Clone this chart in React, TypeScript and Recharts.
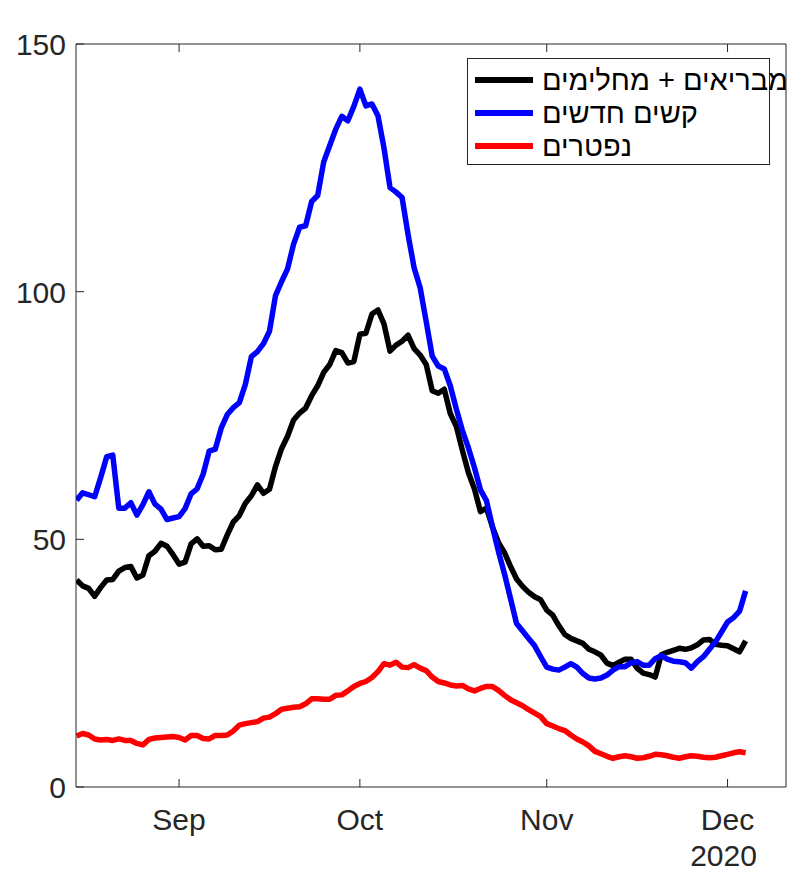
import React from 'react'
import { LineChart, Line, XAxis, YAxis, Legend } from 'recharts'

// day 0 = 15 Aug 2020, one point per day up to 4 Dec
const monthTicks = [17, 47, 78, 108]
const monthLabels = ['Sep', 'Oct', 'Nov', 'Dec']
const yearLabel = '2020'
const yTicks = [0, 50, 100, 150]

const seriesNames = ['מבריאים + מחלימים', 'קשים חדשים', 'נפטרים']
const seriesColors = ['#000000', '#0000ff', '#ff0000']

const recovered = [
  41.8, 40.6, 40.1, 38.5, 40.3, 41.8, 41.9, 43.6, 44.3, 44.5,
  42.2, 42.8, 46.7, 47.6, 49.2, 48.6, 46.9, 45.0, 45.4, 49.1,
  50.1, 48.6, 48.7, 47.9, 48.0, 50.9, 53.5, 54.8, 57.3, 58.8,
  61.0, 59.3, 60.1, 64.7, 68.3, 70.8, 74.1, 75.5, 76.5, 79.0,
  81.0, 83.7, 85.3, 88.1, 87.7, 85.6, 85.9, 91.4, 91.6, 95.5,
  96.3, 93.5, 88.0, 89.2, 90.0, 91.2, 88.5, 87.2, 85.3, 80.0,
  79.5, 80.3, 75.4, 72.8, 68.0, 63.5, 60.2, 55.6, 56.3, 52.5,
  49.3, 47.3, 44.5, 42.0, 40.5, 39.3, 38.4, 37.8, 35.7, 34.7,
  32.6, 30.8, 30.0, 29.5, 29.0, 27.8, 27.3, 26.6, 25.0, 24.5,
  25.2, 25.8, 25.8, 24.0, 23.0, 22.7, 22.2, 26.7, 27.2, 27.6,
  28.0, 27.8, 28.1, 28.7, 29.7, 29.8, 28.8, 28.6, 28.5, 27.9,
  27.3, 29.5,
]

const severe = [
  57.9, 59.4, 59.0, 58.6, 62.5, 66.7, 67.0, 56.3, 56.3, 57.4,
  54.9, 57.0, 59.6, 57.1, 56.1, 54.0, 54.3, 54.6, 56.2, 59.2,
  60.2, 63.2, 67.8, 68.2, 72.5, 75.2, 76.6, 77.6, 81.3, 86.9,
  87.9, 89.5, 92.0, 99.2, 102.0, 104.6, 109.6, 113.0, 113.3, 118.2,
  119.4, 126.2, 129.5, 132.8, 135.4, 134.5, 137.4, 140.9, 137.5, 137.9,
  135.5, 129.0, 121.0, 120.1, 119.0, 111.5, 104.8, 100.8, 94.0, 87.0,
  85.0, 84.4, 81.0, 76.3, 72.0, 68.5, 64.5, 60.0, 57.8, 52.5,
  47.5, 43.0, 38.0, 33.0, 31.5, 30.0, 28.5, 26.3, 24.2, 23.8,
  23.6, 24.2, 24.9, 24.2, 22.9, 22.0, 21.8, 22.0, 22.6, 23.6,
  24.3, 24.3, 25.1, 25.3, 24.6, 24.6, 25.9, 26.5, 25.8, 25.4,
  25.3, 25.1, 24.0, 25.3, 26.3, 27.8, 29.3, 31.3, 33.3, 34.2,
  35.5, 39.6,
]

const deaths = [
  10.3, 10.8, 10.5, 9.7, 9.5, 9.6, 9.4, 9.7, 9.4, 9.4,
  8.8, 8.5, 9.6, 9.9, 10.0, 10.1, 10.2, 10.0, 9.5, 10.4,
  10.4, 9.8, 9.7, 10.4, 10.4, 10.5, 11.3, 12.5, 12.8, 13.0,
  13.2, 13.9, 14.1, 14.8, 15.7, 15.9, 16.1, 16.2, 16.8, 17.8,
  17.8, 17.7, 17.7, 18.5, 18.6, 19.4, 20.3, 20.9, 21.3, 22.1,
  23.3, 24.9, 24.6, 25.2, 24.2, 24.1, 24.7, 24.0, 23.5, 22.2,
  21.3, 21.0, 20.6, 20.4, 20.5, 19.8, 19.4, 19.9, 20.3, 20.3,
  19.5, 18.5, 17.6, 17.0, 16.4, 15.6, 14.9, 14.2, 12.8, 12.3,
  11.8, 11.4, 10.5, 9.7, 9.1, 8.3, 7.2, 6.7, 6.2, 5.8,
  6.1, 6.3, 6.1, 5.8, 5.9, 6.2, 6.6, 6.5, 6.3, 6.0,
  5.8, 6.1, 6.3, 6.2, 6.0, 5.9, 6.0, 6.3, 6.6, 6.9,
  7.1, 6.9,
]

const data = recovered.map((v, i) => ({
  day: i,
  recovered: v,
  severe: severe[i],
  deaths: deaths[i],
}))

const font = '"Liberation Sans", Arial, Helvetica, sans-serif'
const ink = '#262626'

function MonthTick({ x, y, payload }: any) {
  const i = monthTicks.indexOf(payload.value)
  return (
    <g>
      <text x={x} y={y} dy={21} textAnchor='middle' fill={ink} fontSize={30} fontFamily={font}>
        {monthLabels[i]}
      </text>
      {i === monthTicks.length - 1 && (
        <text x={x - 4} y={y} dy={57} textAnchor='middle' fill={ink} fontSize={30} fontFamily={font}>
          {yearLabel}
        </text>
      )}
    </g>
  )
}

function ValueTick({ x, y, payload }: any) {
  return (
    <text x={x} y={y} dy={11} textAnchor='end' fill={ink} fontSize={30} fontFamily={font}>
      {payload.value}
    </text>
  )
}

function LegendBox() {
  return (
    <div style={{
      position: 'relative', width: 303, height: 107, boxSizing: 'border-box',
      border: '1px solid ' + ink, background: '#fff', fontFamily: font,
    }}>
      {seriesNames.map((name, i) => (
        <div key={name} style={{ position: 'absolute', left: 7, top: 21 + i * 33, height: 0 }}>
          <div style={{ position: 'absolute', left: 0, top: -3, width: 58, height: 6, background: seriesColors[i] }} />
          <span dir='rtl' style={{
            position: 'absolute', left: 67, top: -17, whiteSpace: 'nowrap',
            fontSize: 29, lineHeight: '34px', color: '#000', unicodeBidi: 'isolate',
          }}>{name}</span>
        </div>
      ))}
    </div>
  )
}

export default function App() {
  return (
    <div style={{ position: 'absolute', left: 0, top: 0, background: '#fff' }}>
      <LineChart width={788} height={872} data={data} margin={{ top: 43, right: 1, bottom: 0, left: 0 }}>
        <XAxis
          dataKey='day' type='number' domain={[-0.1, 117.7]} ticks={monthTicks}
          tickSize={-8} tickMargin={30} tick={<MonthTick />} height={85}
          stroke={ink} allowDataOverflow
        />
        <XAxis
          xAxisId='top' orientation='top' dataKey='day' type='number' domain={[-0.1, 117.7]}
          ticks={monthTicks} tickSize={-8} tick={() => <g />} height={1} stroke={ink} allowDataOverflow
        />
        <YAxis
          domain={[0, 150]} ticks={yTicks} tickSize={-8} tickMargin={18}
          tick={<ValueTick />} width={76} stroke={ink}
        />
        <YAxis
          yAxisId='right' orientation='right' domain={[0, 150]} ticks={yTicks}
          tickSize={-8} tick={() => <g />} width={1} stroke={ink}
        />
        <Legend
          layout='horizontal' verticalAlign='middle' align='center'
          content={() => <LegendBox />}
          wrapperStyle={{ position: 'absolute', left: 467, top: 58, width: 303, height: 107 }}
        />
        <Line dataKey='recovered' name={seriesNames[0]} stroke={seriesColors[0]} strokeWidth={5.5}
          dot={false} type='linear' strokeLinejoin='round' isAnimationActive={false} />
        <Line dataKey='severe' name={seriesNames[1]} stroke={seriesColors[1]} strokeWidth={5.5}
          dot={false} type='linear' strokeLinejoin='round' isAnimationActive={false} />
        <Line dataKey='deaths' name={seriesNames[2]} stroke={seriesColors[2]} strokeWidth={5.5}
          dot={false} type='linear' strokeLinejoin='round' isAnimationActive={false} />
      </LineChart>
    </div>
  )
}
